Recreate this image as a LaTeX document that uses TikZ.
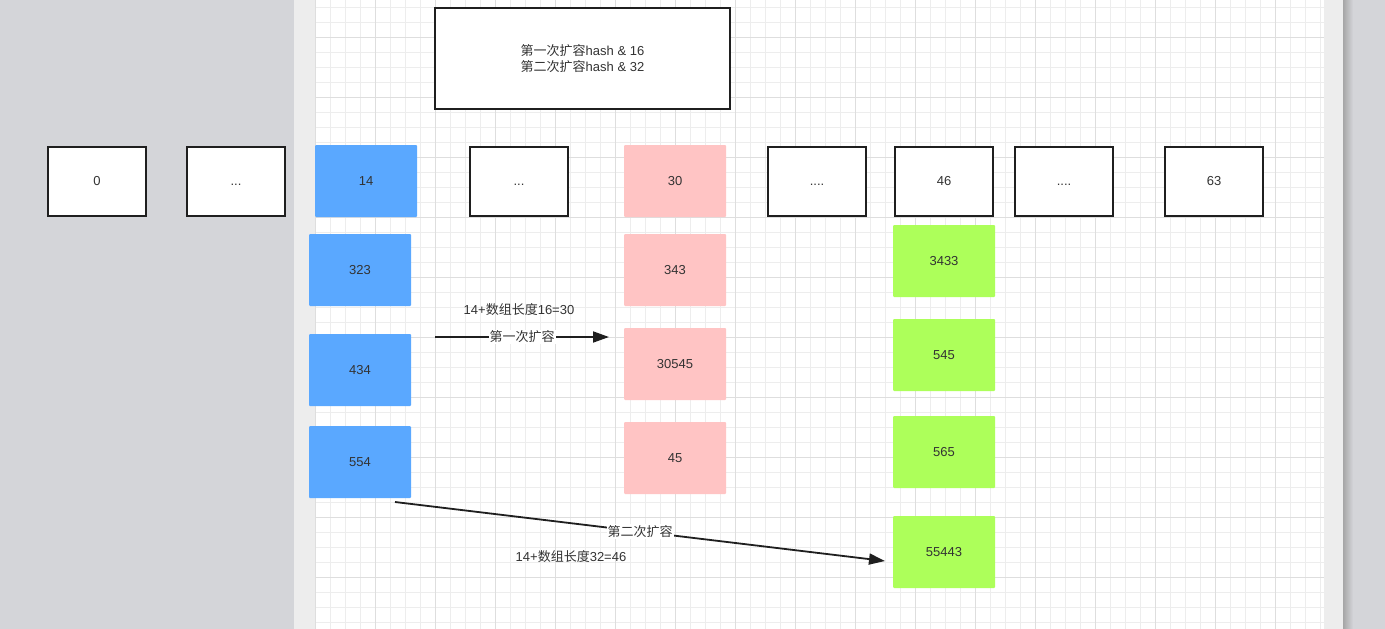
\documentclass[tikz,border=0pt]{standalone}
\usepackage{fontspec}
\setmainfont{Liberation Sans}
\newfontfamily\cjk{Noto Sans CJK SC}
\usetikzlibrary{arrows.meta,positioning}
\definecolor{deskgray}{HTML}{D4D5D9}
\definecolor{pagestrip}{HTML}{EDEDED}
\definecolor{gridminor}{HTML}{EDEDED}
\definecolor{gridmajor}{HTML}{DEDEDE}
\definecolor{cellblue}{HTML}{5AA8FF}
\definecolor{cellpink}{HTML}{FFC4C4}
\definecolor{cellgreen}{HTML}{ADFF5A}
\definecolor{inkgray}{HTML}{333333}

\begin{document}
\begin{tikzpicture}[x=1pt,y=-1pt]
\tikzset{
  slot/.style={rectangle,draw=black!88,line width=2pt,fill=white,minimum width=98pt,minimum height=69pt,inner sep=0pt,text height=9.5pt,text depth=0pt,font=\fontsize{13}{16}\selectfont,text=inkgray},
  cell/.style={rectangle,rounded corners=1pt,minimum width=102pt,minimum height=72pt,inner sep=0pt,text height=9.5pt,text depth=0pt,font=\fontsize{13}{16}\selectfont,text=inkgray},
  bluecell/.style={cell,fill=cellblue},
  pinkcell/.style={cell,fill=cellpink},
  greencell/.style={cell,fill=cellgreen},
  note/.style={font=\fontsize{13}{16}\selectfont,text=inkgray,inner sep=1pt},
  flow/.style={-{Triangle[length=16pt,width=11pt]},line width=1.8pt,draw=black!88}
}
% canvas
\useasboundingbox (0,0) rectangle (1385,629);
\fill[deskgray] (0,0) rectangle (1385,629);
\fill[pagestrip] (294,0) rectangle (1343,629);
\fill[white] (315,0) rectangle (1324,629);
\shade[left color=black!35,right color=deskgray] (1343,0) rectangle (1353,629);
\begin{scope}
\clip (315,0) rectangle (1324,629);
\foreach \gx in {330,345,...,1324} \draw[gridminor,line width=1pt] (\gx,0) -- (\gx,629);
\foreach \gy in {7,22,...,629} \draw[gridminor,line width=1pt] (315,\gy) -- (1324,\gy);
\foreach \gx in {315,375,...,1324} \draw[gridmajor,line width=1pt] (\gx,0) -- (\gx,629);
\foreach \gy in {37,97,...,629} \draw[gridmajor,line width=1pt] (315,\gy) -- (1324,\gy);
\end{scope}

% note box
\node[slot,text height=,text depth=,minimum width=295pt,minimum height=101pt,align=center] (n_note) at (582.5,58.5) {{\cjk 第一次扩容}hash \& 16\\{\cjk 第二次扩容}hash \& 32};

% table row
\node[slot] (n_t0) at (97,181) {0};
\node[slot] (n_t1) at (236,181) {...};
\node[bluecell] (n_t14) at (366,181) {14};
\node[slot] (n_t2) at (519,181) {...};
\node[pinkcell] (n_t30) at (675,181) {30};
\node[slot] (n_t3) at (817,181) {....};
\node[slot] (n_t46) at (944,181) {46};
\node[slot] (n_t4) at (1064,181) {....};
\node[slot] (n_t63) at (1214,181) {63};

% chains
\node[bluecell] (n_b1) at (360,270) {323};
\node[bluecell] (n_b2) at (360,370) {434};
\node[bluecell] (n_b3) at (360,462) {554};
\node[pinkcell] (n_p1) at (675,270) {343};
\node[pinkcell] (n_p2) at (675,364) {30545};
\node[pinkcell] (n_p3) at (675,458) {45};
\node[greencell] (n_g1) at (944,261) {3433};
\node[greencell] (n_g2) at (944,355) {545};
\node[greencell] (n_g3) at (944,452) {565};
\node[greencell] (n_g4) at (944,552) {55443};

% resize arrows
\coordinate (c_f1a) at (435,337);
\coordinate (c_f1b) at (609,337);
\coordinate (c_f2a) at (395,502);
\coordinate (c_f2b) at (885,561);
\draw[flow] (c_f1a) -- node[note,fill=white,font=\cjk\fontsize{13}{16}\selectfont] (n_lab1) {第一次扩容} (c_f1b);
\draw[flow] (c_f2a) -- node[note,fill=white,font=\cjk\fontsize{13}{16}\selectfont] (n_lab2) {第二次扩容} (c_f2b);
\node[note] (n_sum1) at (519,310) {14+{\cjk 数组长度}16=30};
\node[note] (n_sum2) at (571,557) {14+{\cjk 数组长度}32=46};
\end{tikzpicture}
\end{document}
